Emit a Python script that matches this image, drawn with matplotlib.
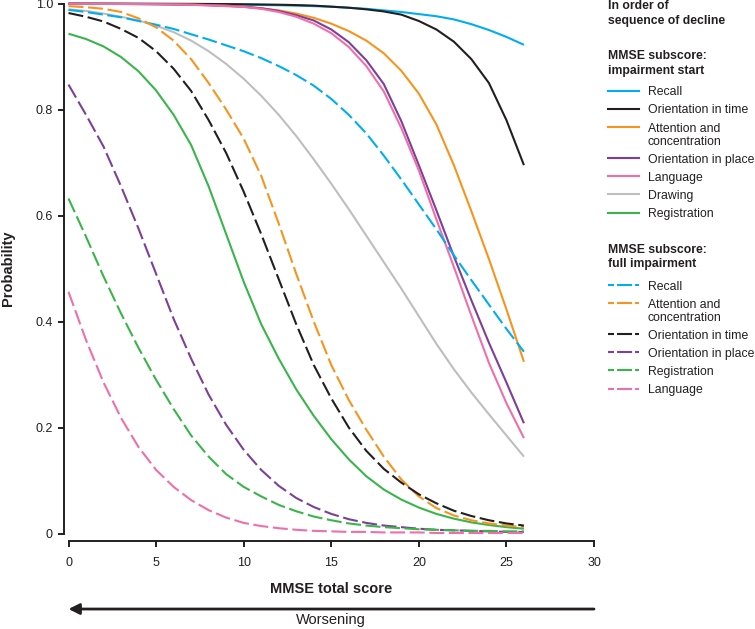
import matplotlib
matplotlib.use("Agg")
import matplotlib.pyplot as plt
from matplotlib.lines import Line2D

plt.rcParams["font.family"] = ["Liberation Sans", "DejaVu Sans"]

# MMSE total score at which probabilities were read
mmse_score = list(range(0, 27))

# MMSE subscore: impairment start (solid)
recall_start = [0.9995, 0.9994, 0.9993, 0.9992, 0.9991, 0.999, 0.9988, 0.9986, 0.9983, 0.998,
                0.9976, 0.9972, 0.9967, 0.996, 0.995, 0.994, 0.992, 0.99, 0.987, 0.984,
                0.98, 0.976, 0.97, 0.961, 0.95, 0.937, 0.922]
orient_time_start = [0.9998, 0.9998, 0.9997, 0.9997, 0.9996, 0.9995, 0.9994, 0.9993, 0.9991, 0.9989,
                     0.9986, 0.9982, 0.9977, 0.997, 0.996, 0.994, 0.992, 0.989, 0.985, 0.979,
                     0.967, 0.951, 0.928, 0.895, 0.85, 0.78, 0.695]
attention_start = [0.9995, 0.9994, 0.9993, 0.9991, 0.999, 0.9988, 0.9985, 0.998, 0.997, 0.996,
                   0.994, 0.991, 0.987, 0.981, 0.973, 0.962, 0.948, 0.93, 0.906, 0.873,
                   0.83, 0.772, 0.695, 0.608, 0.518, 0.423, 0.324]
orient_place_start = [0.9995, 0.9994, 0.9993, 0.9991, 0.9989, 0.9986, 0.9982, 0.9976, 0.9968, 0.9956,
                      0.994, 0.991, 0.986, 0.978, 0.968, 0.951, 0.927, 0.893, 0.848, 0.778,
                      0.695, 0.61, 0.523, 0.44, 0.36, 0.285, 0.208]
language_start = [0.9995, 0.9994, 0.9993, 0.9991, 0.9989, 0.9986, 0.9981, 0.9975, 0.9965, 0.995,
                  0.9935, 0.99, 0.984, 0.975, 0.962, 0.944, 0.918, 0.882, 0.834, 0.765,
                  0.685, 0.593, 0.503, 0.411, 0.322, 0.246, 0.18]
drawing_start = [0.989, 0.986, 0.981, 0.975, 0.968, 0.958, 0.946, 0.93, 0.91, 0.886,
                 0.858, 0.826, 0.79, 0.75, 0.706, 0.66, 0.612, 0.562, 0.512, 0.462,
                 0.41, 0.358, 0.31, 0.266, 0.225, 0.185, 0.145]
registration_start = [0.943, 0.933, 0.919, 0.899, 0.872, 0.836, 0.79, 0.733, 0.655, 0.565,
                      0.475, 0.395, 0.33, 0.272, 0.222, 0.178, 0.14, 0.108, 0.083, 0.064,
                      0.049, 0.037, 0.028, 0.021, 0.016, 0.012, 0.009]

# MMSE subscore: full impairment (dashed)
recall_full = [0.988, 0.984, 0.979, 0.974, 0.967, 0.96, 0.952, 0.942, 0.932, 0.921,
               0.91, 0.897, 0.882, 0.865, 0.845, 0.82, 0.79, 0.755, 0.713, 0.668,
               0.621, 0.574, 0.525, 0.478, 0.432, 0.386, 0.343]
attention_full = [0.995, 0.993, 0.99, 0.984, 0.972, 0.955, 0.93, 0.895, 0.85, 0.80,
                  0.745, 0.675, 0.585, 0.49, 0.40, 0.318, 0.252, 0.196, 0.145, 0.102,
                  0.07, 0.048, 0.034, 0.025, 0.019, 0.015, 0.012]
orient_time_full = [0.982, 0.975, 0.966, 0.952, 0.935, 0.91, 0.877, 0.835, 0.78, 0.718,
                    0.645, 0.565, 0.48, 0.395, 0.318, 0.255, 0.2, 0.156, 0.122, 0.096,
                    0.074, 0.057, 0.043, 0.033, 0.025, 0.019, 0.015]
orient_place_full = [0.847, 0.79, 0.73, 0.655, 0.575, 0.49, 0.405, 0.33, 0.262, 0.205,
                     0.158, 0.12, 0.09, 0.067, 0.05, 0.037, 0.027, 0.02, 0.015, 0.012,
                     0.009, 0.007, 0.006, 0.005, 0.004, 0.003, 0.003]
registration_full = [0.632, 0.56, 0.485, 0.415, 0.35, 0.29, 0.235, 0.185, 0.145, 0.112,
                     0.088, 0.07, 0.054, 0.042, 0.032, 0.025, 0.019, 0.015, 0.012, 0.01,
                     0.008, 0.007, 0.006, 0.005, 0.005, 0.004, 0.004]
language_full = [0.456, 0.365, 0.285, 0.218, 0.163, 0.12, 0.088, 0.063, 0.044, 0.03,
                 0.02, 0.014, 0.01, 0.007, 0.005, 0.004, 0.003, 0.003, 0.002, 0.002,
                 0.002, 0.001, 0.001, 0.001, 0.001, 0.001, 0.001]

start_labels = ["Recall", "Orientation in time", "Attention and\nconcentration",
                "Orientation in place", "Language", "Drawing", "Registration"]
start_values = [recall_start, orient_time_start, attention_start, orient_place_start,
                language_start, drawing_start, registration_start]
start_colours = ["#00AEEF", "#231F20", "#F7941D", "#7D3F98", "#F06EAA", "#BCBEC0", "#39B54A"]

full_labels = ["Recall", "Attention and\nconcentration", "Orientation in time",
               "Orientation in place", "Registration", "Language"]
full_values = [recall_full, attention_full, orient_time_full, orient_place_full,
               registration_full, language_full]
full_colours = ["#00AEEF", "#F7941D", "#231F20", "#7D3F98", "#39B54A", "#F06EAA"]

x_ticks = [0, 5, 10, 15, 20, 25, 30]
y_ticks = [0, 0.2, 0.4, 0.6, 0.8, 1.0]
y_tick_labels = ["0", "0.2", "0.4", "0.6", "0.8", "1.0"]

TEXT = "#231F20"
LW = 1.5
DASH = (7.2, 2.2)

fig = plt.figure(figsize=(7.55, 6.29), dpi=100)
ax = fig.add_axes([68.5 / 755, 95.5 / 629, 525.5 / 755, 530 / 629])

for values, colour in zip(start_values, start_colours):
    ax.plot(mmse_score, values, color=colour, lw=LW, clip_on=False, solid_capstyle="butt")
for values, colour in zip(full_values, full_colours):
    ax.plot(mmse_score, values, color=colour, lw=LW, dashes=DASH, clip_on=False)

ax.set_xlim(0, 30)
ax.set_ylim(0, 1)
ax.set_xticks(x_ticks)
ax.set_yticks(y_ticks)
ax.set_yticklabels(y_tick_labels)

for side in ("top", "right"):
    ax.spines[side].set_visible(False)
ax.spines["left"].set_position(("outward", 3.2))
ax.spines["bottom"].set_position(("outward", 5.2))
for side in ("left", "bottom"):
    ax.spines[side].set_linewidth(1.4)
    ax.spines[side].set_color(TEXT)
ax.tick_params(axis="both", length=4, width=1.4, color=TEXT, labelcolor=TEXT, labelsize=9)
ax.tick_params(axis="y", pad=4)
ax.tick_params(axis="x", pad=8)

ax.set_ylabel("Probability", fontsize=10.5, fontweight="bold", color=TEXT)
ax.yaxis.set_label_coords(-0.101, 0.5)
ax.set_xlabel("MMSE total score", fontsize=10.5, fontweight="bold", color=TEXT)
ax.xaxis.set_label_coords(0.5, -0.105)
ax.xaxis.label.set_va("center")

ax.annotate("", xy=(0, -0.1425), xytext=(1, -0.1425), xycoords="axes fraction",
            annotation_clip=False,
            arrowprops=dict(arrowstyle="-|>", lw=2, color=TEXT, mutation_scale=16,
                            shrinkA=0, shrinkB=0))
ax.text(0.5, -0.164, "Worsening", transform=ax.transAxes, ha="center", va="center",
        fontsize=10.5, color=TEXT)

# legend, laid out in figure pixels (y downwards)
lax = fig.add_axes([0, 0, 1, 1], facecolor="none")
lax.set_xlim(0, 755)
lax.set_ylim(629, 0)
lax.axis("off")


def header(baseline, lines):
    for i, line in enumerate(lines):
        lax.text(607.5, baseline + 14.5 * i, line, fontsize=8.8, fontweight="bold",
                 color=TEXT, va="baseline")


def entries(y, labels, colours, dashed):
    for label, colour in zip(labels, colours):
        kw = dict(dashes=(2.9, 1.44, 7.2, 1.44)) if dashed else {}
        lax.add_line(Line2D([607.5, 638.5], [y, y], color=colour, lw=LW, **kw))
        for i, line in enumerate(label.split("\n")):
            lax.text(648, y + 4.5 + 13.4 * i, line, fontsize=8.8, color=TEXT, va="baseline")
        y += 18.2 + 12.7 * label.count("\n")


header(9.3, ["In order of", "sequence of decline"])
header(59.3, ["MMSE subscore:", "impairment start"])
entries(90.7, start_labels, start_colours, False)
header(253, ["MMSE subscore:", "full impairment"])
entries(285, full_labels, full_colours, True)

fig.savefig("out.png", dpi=100)
